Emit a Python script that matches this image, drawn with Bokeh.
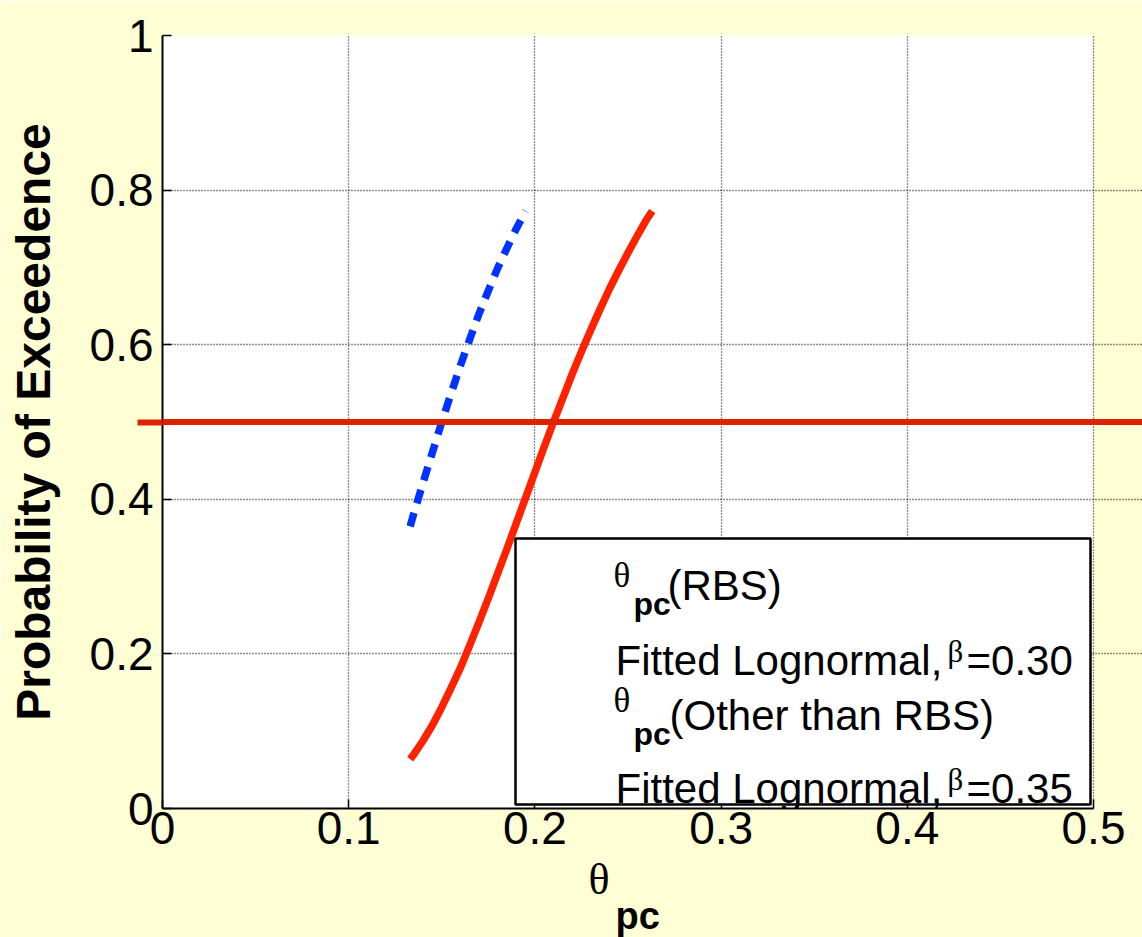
from bokeh.plotting import figure
from bokeh.models import Span, BoxAnnotation, Label, FixedTicker, Range1d, Title
from bokeh.embed import file_html
from bokeh.resources import INLINE

# Probability of exceedence of the plastic rotation capacity theta_pc
theta_rbs = [0.133, 0.135, 0.140, 0.145, 0.150, 0.155, 0.160, 0.165, 0.170,
             0.175, 0.180, 0.185, 0.190, 0.195, 0.200, 0.205, 0.210, 0.215,
             0.220, 0.225, 0.230, 0.235, 0.240, 0.245, 0.250, 0.255, 0.260,
             0.263]
prob_rbs = [0.064, 0.070, 0.088, 0.108, 0.131, 0.156, 0.182, 0.211, 0.241,
            0.272, 0.304, 0.336, 0.369, 0.402, 0.435, 0.468, 0.500, 0.531,
            0.562, 0.591, 0.619, 0.646, 0.672, 0.696, 0.719, 0.741, 0.762,
            0.773]

theta_other = [0.133, 0.135, 0.140, 0.145, 0.150, 0.155, 0.160, 0.165,
               0.170, 0.175, 0.180, 0.185, 0.190, 0.195]
prob_other = [0.365, 0.382, 0.422, 0.461, 0.500, 0.537, 0.573, 0.607,
              0.640, 0.670, 0.699, 0.725, 0.750, 0.773]

median_level = 0.5

x_ticks = [0, 0.1, 0.2, 0.3, 0.4, 0.5]
x_tick_labels = ["0", "0.1", "0.2", "0.3", "0.4", "0.5"]
y_ticks = [0, 0.2, 0.4, 0.6, 0.8, 1.0]
y_tick_labels = ["0", "0.2", "0.4", "0.6", "0.8", "1"]

XLIM = (0.0, 0.5)
YLIM = (0.0, 1.0)

# page geometry (pixels)
W, H = 1142, 937
AX_L, AX_R, AX_T, AX_B = 162, 1093, 35, 808
MEDIAN_STUB = 25   # how far the median line runs out past the y axis

BG = "#FFFFD6"
SANS = "Liberation Sans"
SERIF = "Liberation Serif"

xpp = (XLIM[1] - XLIM[0]) / (AX_R - AX_L)
ypp = (YLIM[1] - YLIM[0]) / (AX_B - AX_T)
x_end = XLIM[1] + (W - AX_R) * xpp   # frame runs on to the right page edge


def at(px, py):
    """Pixel position on the page -> data coordinates."""
    return XLIM[0] + (px - AX_L) * xpp, YLIM[0] + (AX_B - py) * ypp


p = figure(width=W, height=H,
           x_range=Range1d(XLIM[0], x_end), y_range=Range1d(*YLIM),
           output_backend="svg", toolbar_location=None,
           min_border_left=AX_L, min_border_right=0,
           min_border_top=AX_T, min_border_bottom=H - AX_B)

p.background_fill_color = BG
p.border_fill_color = BG
p.outline_line_color = None

# white axes area
p.add_layout(BoxAnnotation(left=XLIM[0], right=XLIM[1], bottom=YLIM[0], top=YLIM[1],
                           fill_color="white", fill_alpha=1.0, line_color=None,
                           level="image"))

# dotted grid
for g, ticks, bnds in ((p.xgrid, x_ticks, YLIM), (p.ygrid, y_ticks, XLIM)):
    g.ticker = FixedTicker(ticks=ticks)
    g.bounds = bnds
    g.grid_line_color = "black"
    g.grid_line_dash = "1 2"
    g.grid_line_width = 1.3
    g.grid_line_alpha = 0.9

# axes
xa = p.xaxis[0]
xa.ticker = FixedTicker(ticks=x_ticks)
xa.bounds = XLIM
xa.major_label_overrides = dict(zip(x_ticks, x_tick_labels))
xa.major_label_standoff = 3

ya = p.yaxis[0]
# the median level line also runs out through the left margin: drawn as a minor tick
ya.ticker = FixedTicker(ticks=y_ticks, minor_ticks=[median_level])
ya.major_label_overrides = dict(zip(y_ticks, y_tick_labels))
ya.major_label_standoff = 9 - MEDIAN_STUB
ya.axis_label = "Probability of Exceedence"
ya.axis_label_text_font = SANS
ya.axis_label_text_font_size = "48px"
ya.axis_label_text_font_style = "bold"
ya.axis_label_text_color = "black"
ya.axis_label_standoff = 2 + MEDIAN_STUB
ya.minor_tick_in = 0
ya.minor_tick_out = MEDIAN_STUB
ya.minor_tick_line_color = "#DD2200"
ya.minor_tick_line_width = 6

for ax in (xa, ya):
    ax.axis_line_color = "black"
    ax.axis_line_width = 2
    ax.major_tick_in = 9
    ax.major_tick_out = 0
    ax.major_tick_line_width = 1.5
    ax.major_tick_line_color = "black"
    ax.major_label_text_font = SANS
    ax.major_label_text_font_size = "46px"
    ax.major_label_text_color = "black"
xa.minor_tick_line_color = None

# fitted lognormal curves
p.line(theta_rbs, prob_rbs, line_color="#FF2200", line_width=7.5, line_join="round")
p.line(theta_other, prob_other, line_color="#0033FF", line_width=7.5, line_dash="14 10")

# median (50 %) level
p.add_layout(Span(location=median_level, dimension="width",
                  line_color="#DD2200", line_width=6))

# legend box
lx0, ly0 = at(515, 804)
lx1, ly1 = at(1090, 538)
p.add_layout(BoxAnnotation(left=lx0, right=lx1, bottom=ly0, top=ly1,
                           fill_color="white", fill_alpha=1.0,
                           line_color="black", line_alpha=1.0, line_width=2.5))


def text(s, px, py, size, font=SANS, style="normal"):
    x, y = at(px, py)
    p.add_layout(Label(x=x, y=y, text=s, text_font=font, text_font_size=size,
                       text_font_style=style, text_color="black",
                       text_baseline="alphabetic", text_align="left"))


# legend entries
text("θ", 613, 575, "35px", SERIF)
text("pc", 633, 603, "32px", SANS, "bold")
text("(RBS)", 667, 585, "42px")
text("Fitted Lognormal,", 615, 660, "42px")
text("β", 947, 651, "31px", SERIF)
text("=0.30", 966, 660, "42px")
text("θ", 613, 700, "35px", SERIF)
text("pc", 633, 733, "32px", SANS, "bold")
text("(Other than RBS)", 669, 715, "42px")
text("Fitted Lognormal,", 615, 788, "42px")
text("β", 947, 779, "31px", SERIF)
text("=0.35", 966, 788, "42px")

# x axis title: theta with a bold "pc" subscript
p.add_layout(Title(text="θ", align="left", offset=588 - AX_L, standoff=13,
                   text_font=SERIF, text_font_size="44px",
                   text_font_style="normal", text_color="black"), "below")
p.add_layout(Title(text="pc", align="left", offset=615 - AX_L, standoff=-35,
                   text_font=SANS, text_font_size="38px",
                   text_font_style="bold", text_color="black"), "below")

open("out.html", "w").write(file_html(p, INLINE))
